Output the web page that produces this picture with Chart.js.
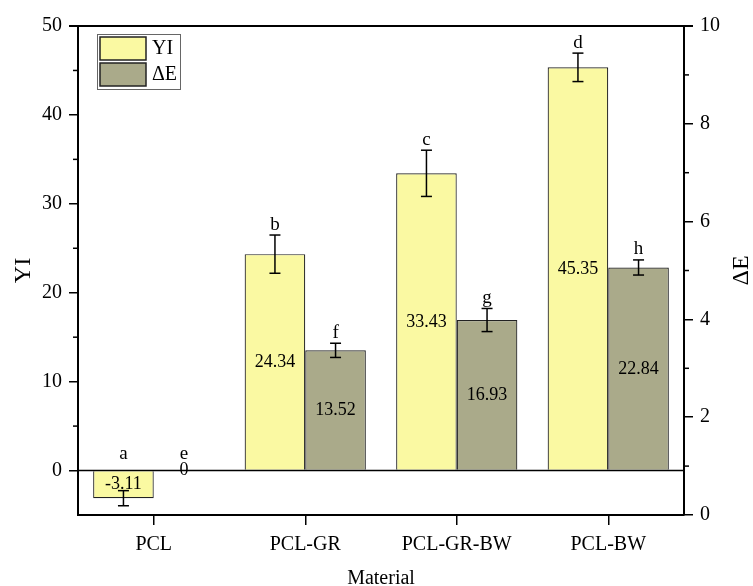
<!DOCTYPE html>
<html><head><meta charset="utf-8">
<script src="https://cdn.jsdelivr.net/npm/chart.js"></script>
<style>html,body{margin:0;padding:0;background:#fff}</style>
</head><body>
<canvas id="c" width="753" height="586"></canvas>
<script>
const categories = ['PCL', 'PCL-GR', 'PCL-GR-BW', 'PCL-BW'];
const yiValues = [-3.11, 24.34, 33.43, 45.35];
const yiErrors = [0.85, 2.15, 2.6, 1.6];
const deValues = [0, 13.52, 16.93, 22.84];
const deErrors = [0, 0.8, 1.3, 0.85];
const yiLetters = ['a', 'b', 'c', 'd'];
const deLetters = ['e', 'f', 'g', 'h'];
const leftTicks = [0, 10, 20, 30, 40, 50];
const leftMinor = [5, 15, 25, 35, 45];
const rightTicks = [0, 2, 4, 6, 8, 10];
const rightMinor = [1, 3, 5, 7, 9];

const FONT = '"Liberation Serif","Times New Roman",serif';
const YELLOW = '#FAF9A2';
const OLIVE = '#AAAA8A';

function line(ctx, x1, y1, x2, y2) {
  ctx.beginPath(); ctx.moveTo(x1, y1); ctx.lineTo(x2, y2); ctx.stroke();
}

const custom = {
  id: 'custom',
  afterDatasetsDraw(chart) {
    const ctx = chart.ctx, y = chart.scales.y, y2 = chart.scales.y2, a = chart.chartArea;
    ctx.save();
    ctx.strokeStyle = '#000';
    ctx.fillStyle = '#000';
    ctx.lineWidth = 1.5;
    const y0 = y.getPixelForValue(0);
    line(ctx, a.left, y0, a.right, y0);
    ctx.lineWidth = 2;
    line(ctx, a.left - 9, a.top, a.right + 9, a.top);
    // minor ticks
    ctx.lineWidth = 1.5;
    leftMinor.forEach(v => { const p = y.getPixelForValue(v); line(ctx, a.left - 5, p, a.left, p); });
    rightMinor.forEach(v => { const p = y2.getPixelForValue(v); line(ctx, a.right, p, a.right + 5, p); });

    const series = [[yiValues, yiErrors, yiLetters], [deValues, deErrors, deLetters]];
    series.forEach((s, di) => {
      const meta = chart.getDatasetMeta(di);
      meta.data.forEach((bar, i) => {
        const v = s[0][i], e = s[1][i], x = bar.x;
        ctx.font = '18px ' + FONT;
        ctx.textAlign = 'center';
        ctx.textBaseline = 'middle';
        ctx.fillText(String(v), x, y.getPixelForValue(v / 2));
        if (e > 0) {
          ctx.lineWidth = 1.5;
          const t = y.getPixelForValue(v + e), b = y.getPixelForValue(v - e);
          line(ctx, x, t, x, b);
          line(ctx, x - 5.5, t, x + 5.5, t);
          line(ctx, x - 5.5, b, x + 5.5, b);
        }
        const top = v + e;
        ctx.font = '19px ' + FONT;
        if (top > 0) {
          ctx.textBaseline = 'bottom';
          ctx.fillText(s[2][i], x, y.getPixelForValue(top) - 1);
        } else {
          ctx.textBaseline = 'alphabetic';
          ctx.fillText(s[2][i], x, y0 - 12);
        }
      });
    });

    // axis titles
    ctx.font = '24px ' + FONT;
    ctx.textAlign = 'center';
    ctx.textBaseline = 'middle';
    const cy = (a.top + a.bottom) / 2;
    ctx.save(); ctx.translate(24, cy); ctx.rotate(-Math.PI / 2); ctx.fillText('YI', 0, 0); ctx.restore();
    ctx.save(); ctx.translate(742, cy); ctx.rotate(-Math.PI / 2); ctx.fillText('ΔE', 0, 0); ctx.restore();
    ctx.font = '20px ' + FONT;
    ctx.textBaseline = 'alphabetic';
    ctx.fillText('Material', (a.left + a.right) / 2, 584);

    // legend
    ctx.lineWidth = 1;
    ctx.strokeStyle = '#666';
    ctx.fillStyle = '#fff';
    ctx.fillRect(97, 34, 83, 55);
    ctx.strokeRect(97.5, 34.5, 83, 55);
    const items = [['YI', YELLOW], ['ΔE', OLIVE]];
    items.forEach((it, k) => {
      const ty = 37 + k * 26;
      ctx.fillStyle = it[1];
      ctx.fillRect(100, ty, 46, 23);
      ctx.strokeStyle = '#222';
      ctx.lineWidth = 1.5;
      ctx.strokeRect(100, ty, 46, 23);
      ctx.fillStyle = '#000';
      ctx.font = '20px ' + FONT;
      ctx.textAlign = 'left';
      ctx.textBaseline = 'middle';
      ctx.fillText(it[0], 152, ty + 12);
    });
    ctx.restore();
  }
};

const gridCfg = (len) => ({ display: true, drawOnChartArea: false, drawTicks: true, tickLength: len, color: '#000', lineWidth: 1.5 });
const tickFont = { family: FONT, size: 20 };

new Chart(document.getElementById('c'), {
  type: 'bar',
  data: {
    labels: categories,
    datasets: [
      { label: 'YI', data: yiValues, backgroundColor: YELLOW, borderColor: '#222', borderWidth: 1.2, yAxisID: 'y', categoryPercentage: 0.8, barPercentage: 1.0 },
      { label: 'ΔE', data: deValues, backgroundColor: OLIVE, borderColor: '#222', borderWidth: 1.2, yAxisID: 'y', categoryPercentage: 0.8, barPercentage: 1.0 }
    ]
  },
  options: {
    responsive: false,
    animation: false,
    devicePixelRatio: 1,
    layout: { padding: { top: 26, left: 0, right: 0, bottom: 0 } },
    plugins: { legend: { display: false }, tooltip: { enabled: false } },
    scales: {
      x: {
        grid: Object.assign(gridCfg(10), { offset: false }),
        border: { display: true, color: '#000', width: 2 },
        ticks: { font: tickFont, color: '#000', padding: 8, maxRotation: 0 },
        afterFit(s) { s.height = 71; }
      },
      y: {
        position: 'left', min: -5, max: 50,
        afterBuildTicks(s) { s.ticks = leftTicks.map(v => ({ value: v })); },
        grid: gridCfg(9),
        border: { display: true, color: '#000', width: 2 },
        ticks: { font: tickFont, color: '#000', padding: 7 },
        afterFit(s) { s.width = 78; }
      },
      y2: {
        position: 'right', min: 0, max: 10,
        afterBuildTicks(s) { s.ticks = rightTicks.map(v => ({ value: v })); },
        grid: gridCfg(9),
        border: { display: true, color: '#000', width: 2 },
        ticks: { font: tickFont, color: '#000', padding: 7 },
        afterFit(s) { s.width = 69; }
      }
    }
  },
  plugins: [custom]
});
</script>
</body></html>
